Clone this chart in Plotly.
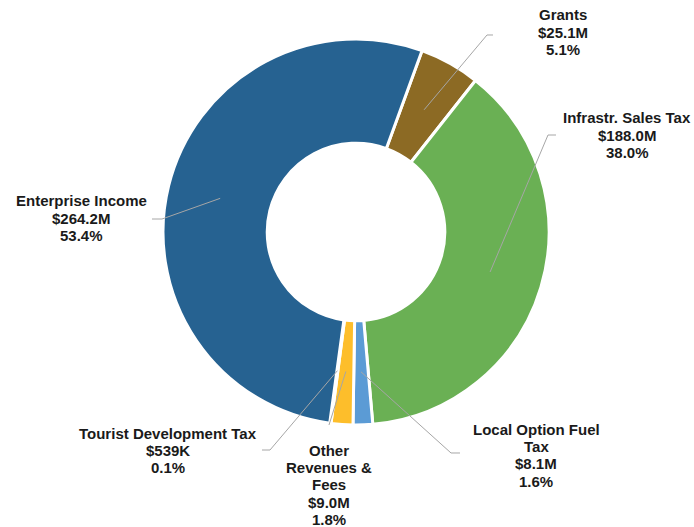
import math
import plotly.graph_objects as go

labels = ["Grants", "Infrastr. Sales Tax", "Local Option Fuel Tax", "Other Revenues & Fees",
          "Tourist Development Tax", "Enterprise Income"]
values = [25.1, 188.0, 8.1, 9.0, 0.539, 264.2]
value_text = ["$25.1M", "$188.0M", "$8.1M", "$9.0M", "$539K", "$264.2M"]
pct_text = ["5.1%", "38.0%", "1.6%", "1.8%", "0.1%", "53.4%"]
label_lines = [["Grants"], ["Infrastr. Sales Tax"], ["Local Option Fuel", "Tax"],
               ["Other", "Revenues &", "Fees"], ["Tourist Development Tax"], ["Enterprise Income"]]
colors = ["#8C6A24", "#6AB054", "#5B9BD5", "#FDBE2B", "#A5A5A5", "#266291"]

W, H = 694, 527
CX, CY, R = 356, 232, 193
ROT = 20
LINE_H = 17.4

# label placement (pixels: center x, first line y) and leader line elbows
label_pos = [(563, 15), (627, 118), (536, 429), (329, 450), (168, 433), (81, 201)]
elbows = [[(487, 35), (493, 35)], [(548, 135), (556, 135)], [(451, 453), (460, 453)],
          [(329, 425)], [(270, 450), (262, 450)], [(162, 219), (152, 219)]]

def px(x, y):
    return x / W, 1 - y / H

fig = go.Figure(go.Pie(
    labels=labels, values=values, sort=False, direction="clockwise", rotation=ROT,
    hole=0.46, textinfo="none", hoverinfo="label+value+percent",
    marker=dict(colors=colors, line=dict(color="white", width=3)),
    domain=dict(x=[(CX - R) / W, (CX + R) / W], y=[(H - CY - R) / H, (H - CY + R) / H]),
    showlegend=False,
))

total = sum(values)
cum = 0.0
shapes, annotations = [], []
for i, v in enumerate(values):
    mid = ROT + (cum + v / 2) / total * 360
    cum += v
    a = math.radians(mid)
    sx, sy = CX + 0.725 * R * math.sin(a), CY - 0.725 * R * math.cos(a)
    pts = [(sx, sy)] + elbows[i]
    path = "M " + " L ".join(f"{px(x, y)[0]:.5f},{px(x, y)[1]:.5f}" for x, y in pts)
    shapes.append(dict(type="path", xref="paper", yref="paper", path=path,
                       line=dict(color="#A6A6A6", width=1)))
    lines = label_lines[i] + [value_text[i], pct_text[i]]
    cx0, y0 = label_pos[i]
    for j, t in enumerate(lines):
        lx, ly = px(cx0, y0 + j * LINE_H)
        annotations.append(dict(x=lx, y=ly, xref="paper", yref="paper", text=f"<b>{t}</b>",
                                showarrow=False, xanchor="center", yanchor="middle",
                                font=dict(family="Liberation Sans, Arial, sans-serif", size=15,
                                          color="#1a1a1a")))

fig.update_layout(width=W, height=H, margin=dict(l=0, r=0, t=0, b=0),
                  paper_bgcolor="white", plot_bgcolor="white",
                  shapes=shapes, annotations=annotations)
fig.write_html("out.html", config={"displayModeBar": False},
               post_script="document.body.style.margin='0';")
